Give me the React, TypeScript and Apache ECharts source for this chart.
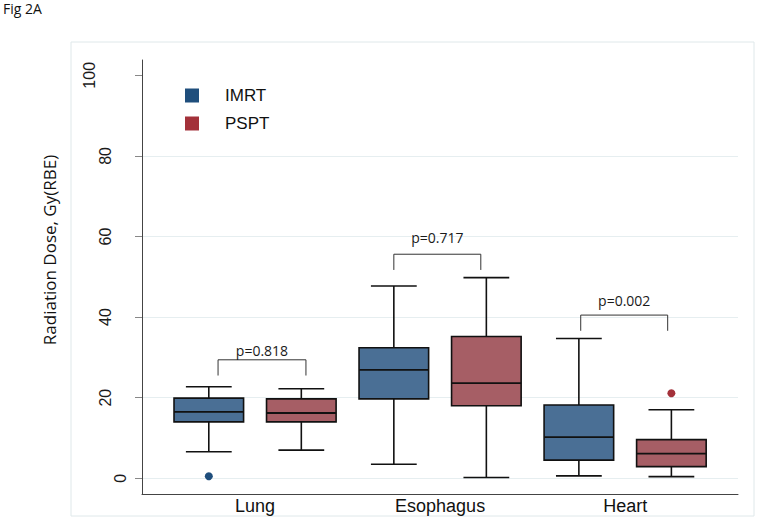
import React, { useEffect, useRef } from "react";
import * as echarts from "echarts";

// ---------- data ----------
const categories = ["Lung", "Esophagus", "Heart"];
const groups = ["IMRT", "PSPT"];
// [min, Q1, median, Q3, max] per category
const imrtBoxes = [
  [6.6, 14.0, 16.5, 19.9, 22.7],
  [3.5, 19.7, 26.9, 32.4, 47.7],
  [0.6, 4.5, 10.2, 18.2, 34.7],
];
const psptBoxes = [
  [7.0, 14.0, 16.2, 19.7, 22.2],
  [0.2, 18.0, 23.6, 35.2, 49.8],
  [0.4, 2.9, 6.1, 9.6, 17.0],
];
// [categoryIndex, value]
const imrtOutliers = [[0, 0.5]];
const psptOutliers = [[2, 21.1]];
const pValues = ["p=0.818", "p=0.717", "p=0.002"];
const bracketFrom = [1.1, 3.0, 5.02];
const bracketTo = [2.05, 3.94, 5.96];
const bracketTop = [29.4, 55.6, 40.5];
const bracketLeg = [25.5, 51.7, 36.6];
const pLabelY = [31.7, 59.8, 44.0];
const yTicks = [0, 20, 40, 60, 80, 100];

// ---------- layout / style constants ----------
const X_MIN = 0.278;
const X_MAX = 6.72;
const Y_MIN = -3.9;
const Y_MAX = 103.8;
const BOX_W = 0.752;
const CAP_W = 0.495;
const FILL = ["#4a6f95", "#a65e65"];
const DOT = ["#1f4e7c", "#a3313a"];
const ARIAL = "'Liberation Sans', Arial, sans-serif";
const OPEN = "'Open Sans', 'Noto Sans', sans-serif";

const slot = (cat: number, grp: number) => cat * 2 + grp + 1;

const boxData = [
  ...imrtBoxes.map((b, i) => [slot(i, 0), ...b, 0]),
  ...psptBoxes.map((b, i) => [slot(i, 1), ...b, 1]),
];
const bracketData = pValues.map((_, i) => [
  bracketFrom[i],
  bracketTo[i],
  bracketTop[i],
  bracketLeg[i],
  pLabelY[i],
  i,
]);

function yAxisFor(values: number[], margin: number, main: boolean) {
  return {
    type: "value",
    position: "left",
    min: Y_MIN,
    max: Y_MAX,
    name: main ? "Radiation Dose, Gy(RBE)" : "",
    nameLocation: "middle",
    nameGap: 84,
    nameTextStyle: {
      fontSize: 17,
      fontFamily: OPEN,
      color: "#111",
      padding: [0, 0, 0, 54],
    },
    axisLine: { show: main, onZero: false, lineStyle: { color: "#444", width: 1 } },
    axisTick: {
      show: main,
      customValues: yTicks,
      length: 7,
      lineStyle: { color: "#888", width: 1 },
    },
    axisLabel: {
      customValues: values,
      rotate: 90,
      margin,
      fontSize: 16,
      fontFamily: ARIAL,
      color: "#1a1a1a",
    },
    splitLine: {
      show: main,
      showMaxLine: false,
      lineStyle: { color: "#e6eef0", width: 1 },
    },
  };
}

export default function App() {
  const ref = useRef<HTMLDivElement>(null);
  useEffect(() => {
    if (!ref.current) return;
    const chart = echarts.init(ref.current, null, { renderer: "svg" });
    const option: any = {
      animation: false,
      backgroundColor: "#ffffff",
      title: {
        text: "Fig 2A",
        left: 3,
        top: 1,
        padding: 0,
        textStyle: { fontSize: 14, fontFamily: OPEN, fontWeight: "normal", color: "#111" },
      },
      graphic: [
        {
          type: "rect",
          z: -10,
          shape: { x: 71, y: 42, width: 683, height: 474 },
          style: { fill: "none", stroke: "#dfe8ea", lineWidth: 1 },
        },
      ],
      legend: {
        orient: "vertical",
        left: 185,
        top: 87,
        padding: 0,
        icon: "rect",
        itemWidth: 14,
        itemHeight: 14,
        itemGap: 11,
        selectedMode: false,
        data: groups,
        itemStyle: { opacity: 1 },
        textStyle: {
          fontSize: 17,
          fontFamily: ARIAL,
          color: "#111",
          padding: [0, 0, 0, 21],
        },
      },
      grid: { left: 142, right: 24, top: 60, bottom: 27, containLabel: false, outerBoundsMode: "none" },
      xAxis: {
        type: "value",
        min: X_MIN,
        max: X_MAX,
        axisLine: { show: true, onZero: false, lineStyle: { color: "#444", width: 1 } },
        axisTick: { show: false },
        splitLine: { show: false },
        axisLabel: {
          customValues: categories.map((_, i) => i * 2 + 1.5),
          formatter: (v: number) => categories[Math.round((v - 1.5) / 2)] ?? "",
          fontSize: 18,
          fontFamily: ARIAL,
          color: "#111",
          margin: 3,
        },
      },
      yAxis: [
        yAxisFor(yTicks.filter((v) => String(v).length === 1), 14, true),
        yAxisFor(yTicks.filter((v) => String(v).length === 2), 29, false),
        yAxisFor(yTicks.filter((v) => String(v).length === 3), 45, false),
      ],
      series: [
        {
          type: "custom",
          name: "boxes",
          data: boxData,
          encode: { x: 0, y: [1, 2, 3, 4, 5] },
          renderItem: (params: any, api: any) => {
            const x = api.value(0);
            const lo = api.coord([x, api.value(1)]);
            const q1 = api.coord([x, api.value(2)]);
            const med = api.coord([x, api.value(3)]);
            const q3 = api.coord([x, api.value(4)]);
            const hi = api.coord([x, api.value(5)]);
            const g = api.value(6);
            const bw = api.size([BOX_W, 0])[0];
            const cw = api.size([CAP_W, 0])[0];
            const cx = lo[0];
            const ls = { stroke: "#111", lineWidth: 1.6 };
            return {
              type: "group",
              children: [
                { type: "line", shape: { x1: cx, y1: q3[1], x2: cx, y2: hi[1] }, style: ls },
                { type: "line", shape: { x1: cx, y1: q1[1], x2: cx, y2: lo[1] }, style: ls },
                { type: "line", shape: { x1: cx - cw / 2, y1: hi[1], x2: cx + cw / 2, y2: hi[1] }, style: ls },
                { type: "line", shape: { x1: cx - cw / 2, y1: lo[1], x2: cx + cw / 2, y2: lo[1] }, style: ls },
                {
                  type: "rect",
                  shape: { x: cx - bw / 2, y: q3[1], width: bw, height: q1[1] - q3[1] },
                  style: { fill: FILL[g], stroke: "#111", lineWidth: 1.6 },
                },
                { type: "line", shape: { x1: cx - bw / 2, y1: med[1], x2: cx + bw / 2, y2: med[1] }, style: { stroke: "#111", lineWidth: 1.8 } },
              ],
            };
          },
        },
        {
          type: "scatter",
          name: groups[0],
          data: imrtOutliers.map(([c, v]) => [slot(c, 0), v]),
          symbolSize: 8,
          itemStyle: { color: DOT[0], opacity: 1 },
        },
        {
          type: "scatter",
          name: groups[1],
          data: psptOutliers.map(([c, v]) => [slot(c, 1), v]),
          symbolSize: 8,
          itemStyle: { color: DOT[1], opacity: 1 },
        },
        {
          type: "custom",
          name: "brackets",
          data: bracketData,
          encode: { x: [0, 1], y: [2, 3, 4] },
          renderItem: (params: any, api: any) => {
            const x1 = api.value(0);
            const x2 = api.value(1);
            const top = api.value(2);
            const leg = api.value(3);
            const a = api.coord([x1, leg]);
            const b = api.coord([x1, top]);
            const c = api.coord([x2, top]);
            const d = api.coord([x2, leg]);
            const t = api.coord([(x1 + x2) / 2, api.value(4)]);
            return {
              type: "group",
              children: [
                {
                  type: "polyline",
                  shape: { points: [a, b, c, d] },
                  style: { stroke: "#333", lineWidth: 1, fill: "none" },
                },
                {
                  type: "text",
                  x: t[0],
                  y: t[1],
                  style: {
                    text: pValues[api.value(5)],
                    fill: "#1a1a1a",
                    fontSize: 14,
                    fontFamily: OPEN,
                    align: "center",
                    verticalAlign: "middle",
                  },
                },
              ],
            };
          },
        },
      ],
    };
    chart.setOption(option);
    return () => chart.dispose();
  }, []);
  return <div ref={ref} style={{ width: 762, height: 521, position: "absolute", left: 0, top: 0 }} />;
}
